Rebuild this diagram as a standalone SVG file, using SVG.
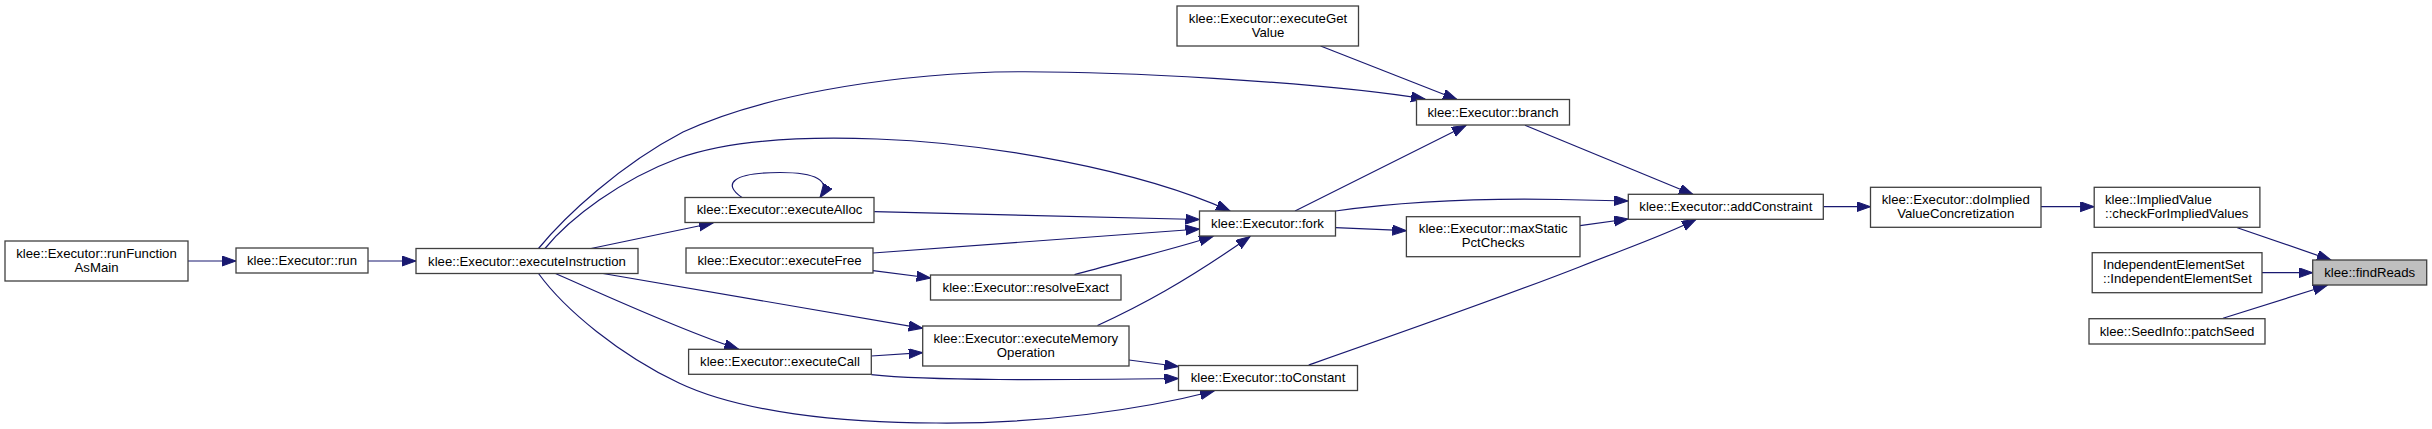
<svg xmlns="http://www.w3.org/2000/svg" width="2432" height="429" viewBox="0 0 2432 429">
<style>
.n rect{fill:#ffffff;stroke:#404040;stroke-width:1.3}
.n.cur rect{fill:#bfbfbf}
.n text{font-family:"Liberation Sans",Arial,sans-serif;font-size:13.2px;fill:#000000;text-anchor:middle}
.n text.l{text-anchor:start}
#edges path{fill:none;stroke:#191970;stroke-width:1.2;marker-end:url(#ah)}
</style>
<defs>
<marker id="ah" markerUnits="userSpaceOnUse" markerWidth="16" markerHeight="12" refX="14" refY="5" orient="auto">
<path d="M0,0 L14,5 L0,10 Z" fill="#191970" stroke="#191970" stroke-width="1"/>
</marker>
</defs>
<rect width="2432" height="429" fill="#ffffff"/>
<g id="edges">
<path d="M188,261 L236,261"/>
<path d="M368,261 L416,261"/>
<path d="M538.5,248.5 C565,216 620,165 683,132 C760,96 880,76 995,72 C1110,70 1320,82 1425,99"/>
<path d="M1320.6,46 L1457,99.5"/>
<path d="M545,248.5 C570,218 620,180 679,158 C730,140 800,136 877,139 C990,143 1140,170 1230,211"/>
<path d="M591,248.5 L713,223"/>
<path d="M742,197.5 C722,184 732,172.5 780,172.5 C815,172.5 832,180 820,197.5"/>
<path d="M874.3,211.7 C1000,214 1100,217 1199.5,219.5"/>
<path d="M873,253 C1000,243 1100,236 1199.5,229"/>
<path d="M873,270.7 L930.6,278"/>
<path d="M1074.5,274.7 C1120,262 1170,250 1213,236.5"/>
<path d="M1097.5,325.5 C1140,306 1185,282 1250,236.5"/>
<path d="M603,273.5 L922.7,328.3"/>
<path d="M555.5,273.5 C600,293 680,330 738.4,349"/>
<path d="M871.3,356 L922.7,352.7"/>
<path d="M1129,360 L1178.5,366.5"/>
<path d="M871.3,374.7 C930,381 1050,380 1178.5,378.5"/>
<path d="M538.5,273.5 C565,310 620,355 679,383 C740,412 840,423 936,423 C1040,424 1140,410 1214,391"/>
<path d="M1295,211 L1466,125.5"/>
<path d="M1335.5,211 C1400,202 1480,198 1560,199.5 C1590,200 1610,200.5 1628,201"/>
<path d="M1335.5,227.7 L1406.4,230.7"/>
<path d="M1580,225.7 L1628,219"/>
<path d="M1525,125.3 L1693,194.5"/>
<path d="M1308.7,365 C1400,333 1500,298 1580,266.7 C1630,247 1665,235 1696,219.5"/>
<path d="M1823.3,206.7 L1870.5,206.7"/>
<path d="M2041,206.7 L2094.2,206.7"/>
<path d="M2237.3,227.7 L2331,260"/>
<path d="M2262,272.7 L2312.7,272.7"/>
<path d="M2223,318.3 L2327,285.5"/>
</g>
<g id="node_runFunctionAsMain" class="n"><rect x="5" y="241" width="183" height="40"/><text x="96.5" y="257.5">klee::Executor::runFunction</text><text x="96.5" y="271.5">AsMain</text></g>
<g id="node_run" class="n"><rect x="236" y="248" width="132" height="25"/><text x="302" y="265">klee::Executor::run</text></g>
<g id="node_executeInstruction" class="n"><rect x="416" y="248.5" width="222" height="25"/><text x="527" y="265.5">klee::Executor::executeInstruction</text></g>
<g id="node_executeGetValue" class="n"><rect x="1177" y="6" width="181.5" height="40"/><text x="1268" y="22.5">klee::Executor::executeGet</text><text x="1268" y="36.5">Value</text></g>
<g id="node_executeAlloc" class="n"><rect x="685" y="197.5" width="189" height="25"/><text x="779.5" y="214">klee::Executor::executeAlloc</text></g>
<g id="node_executeFree" class="n"><rect x="686" y="248" width="187" height="25"/><text x="779.5" y="264.5">klee::Executor::executeFree</text></g>
<g id="node_resolveExact" class="n"><rect x="930.5" y="275" width="190.5" height="25"/><text x="1025.8" y="291.5">klee::Executor::resolveExact</text></g>
<g id="node_executeMemoryOperation" class="n"><rect x="922.7" y="326" width="206.3" height="40"/><text x="1025.8" y="342.5">klee::Executor::executeMemory</text><text x="1025.8" y="356.5">Operation</text></g>
<g id="node_executeCall" class="n"><rect x="688.6" y="349.3" width="182.7" height="25"/><text x="780" y="366">klee::Executor::executeCall</text></g>
<g id="node_fork" class="n"><rect x="1199.5" y="211" width="136" height="25"/><text x="1267.5" y="227.5">klee::Executor::fork</text></g>
<g id="node_toConstant" class="n"><rect x="1178.5" y="365.5" width="179" height="25"/><text x="1268" y="382">klee::Executor::toConstant</text></g>
<g id="node_branch" class="n"><rect x="1416.5" y="99.5" width="153" height="25.5"/><text x="1493" y="116.5">klee::Executor::branch</text></g>
<g id="node_maxStaticPctChecks" class="n"><rect x="1406.4" y="216.7" width="173.6" height="40"/><text x="1493.2" y="233">klee::Executor::maxStatic</text><text x="1493.2" y="247">PctChecks</text></g>
<g id="node_addConstraint" class="n"><rect x="1628.3" y="194.3" width="195" height="25"/><text x="1725.8" y="211">klee::Executor::addConstraint</text></g>
<g id="node_doImpliedValueConcretization" class="n"><rect x="1870.5" y="187.3" width="170.5" height="40"/><text x="1955.7" y="203.8">klee::Executor::doImplied</text><text x="1955.7" y="217.8">ValueConcretization</text></g>
<g id="node_checkForImpliedValues" class="n"><rect x="2094.2" y="187.3" width="165.7" height="40"/><text class="l" x="2105" y="203.8">klee::ImpliedValue</text><text class="l" x="2105" y="217.8">::checkForImpliedValues</text></g>
<g id="node_IndependentElementSet" class="n"><rect x="2092.2" y="252.7" width="169.8" height="40"/><text class="l" x="2103" y="269">IndependentElementSet</text><text class="l" x="2103" y="283">::IndependentElementSet</text></g>
<g id="node_patchSeed" class="n"><rect x="2089" y="318.7" width="176" height="25.3"/><text x="2177" y="335.5">klee::SeedInfo::patchSeed</text></g>
<g id="node_findReads" class="n cur"><rect x="2312.7" y="260" width="114" height="25"/><text x="2369.7" y="276.5">klee::findReads</text></g>
</svg>
